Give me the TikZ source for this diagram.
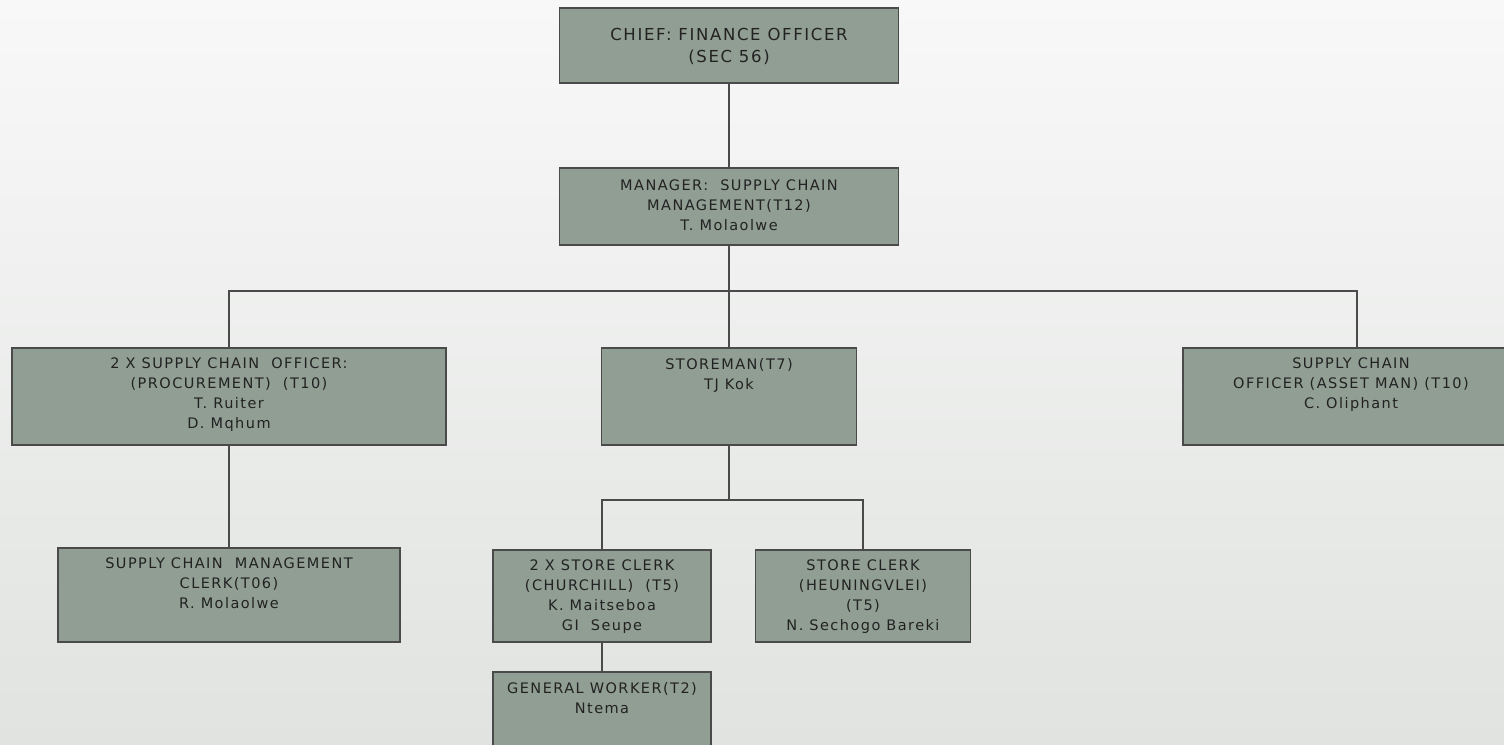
\documentclass[tikz,border=0pt]{standalone}
\usepackage{fontspec}
\setmainfont{DejaVu Sans}
\newfontfamily\orgfont[LetterSpace=10]{DejaVu Sans}
\usepackage{tikz}
\usetikzlibrary{positioning}
\definecolor{bgtop}{HTML}{F8F8F8}
\definecolor{bgbot}{HTML}{E0E3E0}
\definecolor{postfill}{HTML}{919E94}
\definecolor{postline}{HTML}{4A4A4A}
\definecolor{posttext}{HTML}{222222}
% box text: width, height, top padding, lines
\newcommand{\orgtext}[4]{\parbox[c][#2][t]{#1}{\centering\vspace*{#3}#4}}

\begin{document}
\begin{tikzpicture}[x=1pt,y=-1pt,line width=1.4pt,
    post/.style={draw=postline,fill=postfill,inner sep=0pt,text=posttext,
      font=\orgfont\fontsize{14.5}{20}\selectfont},
    link/.style={draw=postline,line width=1.8pt}]

    % Background
    \useasboundingbox (0,0) rectangle (1504,744);
    \shade[top color=bgtop,bottom color=bgbot] (0,0) rectangle (1504,744);

    % The chart
    \node [post,font=\orgfont\fontsize{16.5}{22}\selectfont] at (729,45.5) (chief)
      {\orgtext{339pt}{75pt}{20pt}{CHIEF: FINANCE OFFICER\\(SEC 56)}};
    \node [post] at (729,206.5) (manager)
      {\orgtext{339pt}{77pt}{12pt}{MANAGER:\ \ SUPPLY CHAIN\\MANAGEMENT(T12)\\T. Molaolwe}};
    \node [post] at (229,396.5) (proc)
      {\orgtext{434pt}{97pt}{10pt}{2 X SUPPLY CHAIN\ \ OFFICER:\\(PROCUREMENT)\ \ (T10)\\T. Ruiter\\D. Mqhum}};
    \node [post] at (729,396.5) (storeman)
      {\orgtext{255pt}{97pt}{10pt}{STOREMAN(T7)\\TJ Kok}};
    \node [post] at (1351,396.5) (asset)
      {\orgtext{336pt}{97pt}{10pt}{SUPPLY CHAIN\\OFFICER (ASSET MAN) (T10)\\C. Oliphant}};
    \node [post] at (229,595) (scmclerk)
      {\orgtext{342pt}{94pt}{9.5pt}{SUPPLY CHAIN\ \ MANAGEMENT\\CLERK(T06)\\R. Molaolwe}};
    \node [post] at (602,596) (churchill)
      {\orgtext{218pt}{92pt}{9.5pt}{2 X STORE CLERK\\(CHURCHILL)\ \ (T5)\\K. Maitseboa\\GI\ \ Seupe}};
    \node [post] at (863,596) (heuningvlei)
      {\orgtext{215pt}{92pt}{9.5pt}{STORE CLERK\\(HEUNINGVLEI)\\(T5)\\N. Sechogo Bareki}};
    \node [post] at (602,717) (worker)
      {\orgtext{218pt}{90pt}{10pt}{GENERAL WORKER(T2)\\Ntema}};

    \coordinate (bus) at (729,291);
    \coordinate (storebus) at (729,500);

    % Chart lines
    \draw[link] (chief) -- (manager);
    \draw[link] (manager) -- (storeman);
    \draw[link] (proc) -- (scmclerk);
    \draw[link] (storeman) -- (storebus);
    \draw[link] (churchill) -- (worker);

    \draw[link] (proc.north) |- (bus) -| ([xshift=6pt]asset.north);
    \draw[link] (churchill.north) |- (storebus) -| (heuningvlei.north);

\end{tikzpicture}
\end{document}
